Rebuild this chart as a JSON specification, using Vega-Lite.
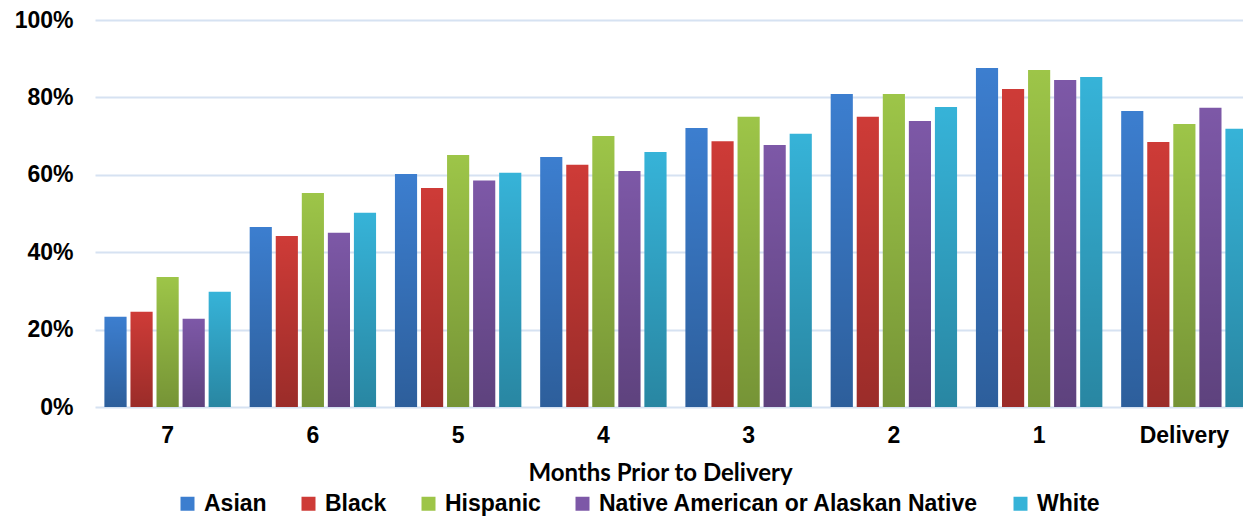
{
  "$schema": "https://vega.github.io/schema/vega-lite/v6.json",
  "autosize": {"type": "none"},
  "padding": {"left": 95, "top": 20, "right": 0, "bottom": 109},
  "width": 1148,
  "height": 387,
  "background": "white",
  "config": {
    "view": {"stroke": null},
    "font": "Liberation Sans"
  },
  "data": {
    "values": [
      {"month": "7", "race": "Asian", "pct": 23.3},
      {"month": "7", "race": "Black", "pct": 24.6},
      {"month": "7", "race": "Hispanic", "pct": 33.6},
      {"month": "7", "race": "Native American or Alaskan Native", "pct": 22.8},
      {"month": "7", "race": "White", "pct": 29.8},
      {"month": "6", "race": "Asian", "pct": 46.5},
      {"month": "6", "race": "Black", "pct": 44.2},
      {"month": "6", "race": "Hispanic", "pct": 55.3},
      {"month": "6", "race": "Native American or Alaskan Native", "pct": 45.0},
      {"month": "6", "race": "White", "pct": 50.2},
      {"month": "5", "race": "Asian", "pct": 60.2},
      {"month": "5", "race": "Black", "pct": 56.6},
      {"month": "5", "race": "Hispanic", "pct": 65.1},
      {"month": "5", "race": "Native American or Alaskan Native", "pct": 58.5},
      {"month": "5", "race": "White", "pct": 60.5},
      {"month": "4", "race": "Asian", "pct": 64.6},
      {"month": "4", "race": "Black", "pct": 62.6},
      {"month": "4", "race": "Hispanic", "pct": 70.0},
      {"month": "4", "race": "Native American or Alaskan Native", "pct": 61.0},
      {"month": "4", "race": "White", "pct": 65.9},
      {"month": "3", "race": "Asian", "pct": 72.1},
      {"month": "3", "race": "Black", "pct": 68.7},
      {"month": "3", "race": "Hispanic", "pct": 75.0},
      {"month": "3", "race": "Native American or Alaskan Native", "pct": 67.7},
      {"month": "3", "race": "White", "pct": 70.6},
      {"month": "2", "race": "Asian", "pct": 80.9},
      {"month": "2", "race": "Black", "pct": 75.0},
      {"month": "2", "race": "Hispanic", "pct": 80.9},
      {"month": "2", "race": "Native American or Alaskan Native", "pct": 73.9},
      {"month": "2", "race": "White", "pct": 77.5},
      {"month": "1", "race": "Asian", "pct": 87.6},
      {"month": "1", "race": "Black", "pct": 82.2},
      {"month": "1", "race": "Hispanic", "pct": 87.1},
      {"month": "1", "race": "Native American or Alaskan Native", "pct": 84.5},
      {"month": "1", "race": "White", "pct": 85.3},
      {"month": "Delivery", "race": "Asian", "pct": 76.5},
      {"month": "Delivery", "race": "Black", "pct": 68.5},
      {"month": "Delivery", "race": "Hispanic", "pct": 73.1},
      {"month": "Delivery", "race": "Native American or Alaskan Native", "pct": 77.3},
      {"month": "Delivery", "race": "White", "pct": 71.9}
    ]
  },
  "encoding": {
    "x": {
      "field": "month",
      "type": "nominal",
      "sort": ["7", "6", "5", "4", "3", "2", "1", "Delivery"],
      "scale": {"paddingInner": 0.13, "paddingOuter": 0.065, "range": [0, 1162]},
      "axis": {
        "title": "Months Prior to Delivery",
        "titleFont": "Lato",
        "titleFontSize": 24,
        "titleFontWeight": "bold",
        "titleColor": "#000000",
        "titleY": 66,
        "titleX": 565,
        "titleAnchor": "middle",
        "titleAlign": "center",
        "titleBaseline": "middle",
        "labelAngle": 0,
        "labelFont": "Liberation Sans",
        "labelFontSize": 23,
        "labelFontWeight": "bold",
        "labelColor": "#000000",
        "labelPadding": 17,
        "ticks": false,
        "domain": false,
        "grid": false
      }
    },
    "xOffset": {
      "field": "race",
      "type": "nominal",
      "scale": {"paddingInner": 0.15, "paddingOuter": 0}
    },
    "y": {
      "field": "pct",
      "type": "quantitative",
      "scale": {"domain": [0, 100], "nice": false},
      "axis": {
        "title": null,
        "values": [0, 20, 40, 60, 80, 100],
        "labelExpr": "datum.value + '%'",
        "labelFont": "Liberation Sans",
        "labelFontSize": 23,
        "labelFontWeight": "bold",
        "labelColor": "#000000",
        "labelPadding": 22,
        "ticks": false,
        "domain": false,
        "grid": true,
        "gridColor": "#D6E2F2",
        "gridWidth": 2
      }
    }
  },
  "layer": [
    {
      "mark": {"type": "bar"},
      "encoding": {
        "color": {
          "field": "race",
          "type": "nominal",
          "scale": {
            "domain": ["Asian", "Black", "Hispanic", "Native American or Alaskan Native", "White"],
            "range": ["#3C7ECF", "#CE3B37", "#9DC548", "#7D58A7", "#36B3D8"]
          },
          "legend": {
            "title": null,
            "orient": "none",
            "direction": "horizontal",
            "legendX": 81,
            "legendY": 472,
            "padding": 0,
            "symbolType": "square",
            "symbolSize": 196,
            "symbolStrokeWidth": 0,
            "labelFont": "Liberation Sans",
            "labelFontSize": 23,
            "labelFontWeight": "bold",
            "labelColor": "#000000",
            "labelOffset": 5,
            "columnPadding": 30,
            "labelLimit": 600
          }
        }
      }
    },
    {
      "mark": {
        "type": "bar",
        "fill": {
          "gradient": "linear",
          "x1": 0, "y1": 0, "x2": 0, "y2": 1,
          "stops": [
            {"offset": 0, "color": "rgba(0,0,0,0)"},
            {"offset": 1, "color": "rgba(0,0,0,0.25)"}
          ]
        }
      },
      "encoding": {}
    }
  ]
}
